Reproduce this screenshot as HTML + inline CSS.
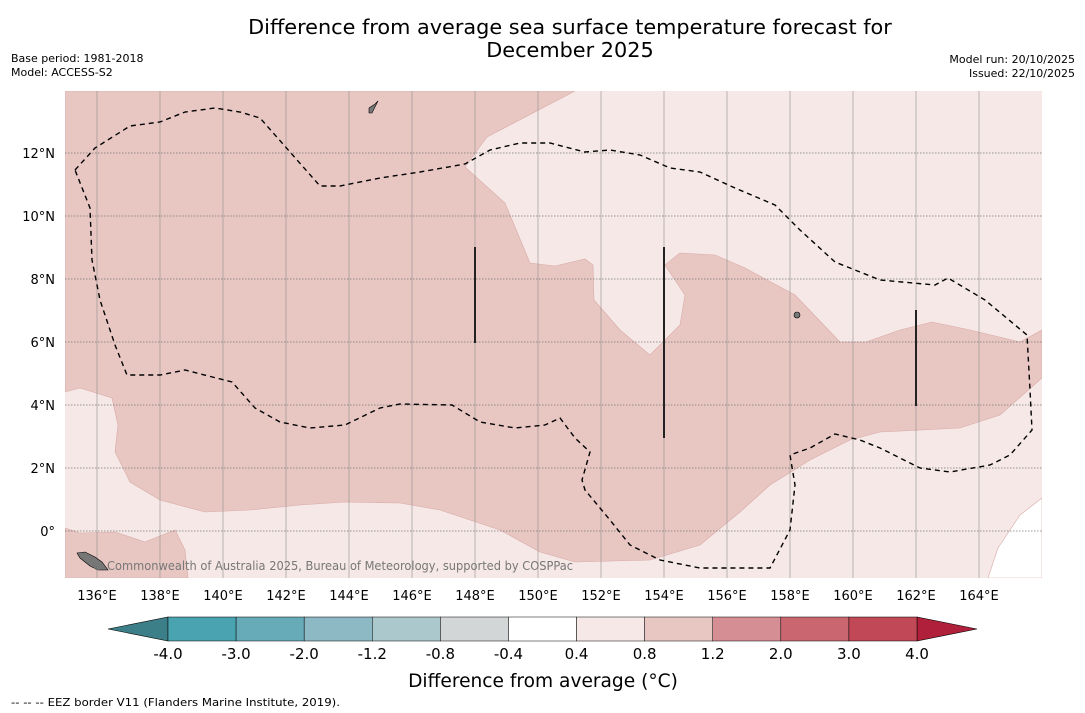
<!DOCTYPE html>
<html><head><meta charset="utf-8"><style>
body{margin:0;background:#fff;width:1085px;height:713px;overflow:hidden;font-family:"Liberation Sans","DejaVu Sans",sans-serif}
svg{display:block}
</style></head><body>
<svg id="c" width="1085" height="713" xmlns="http://www.w3.org/2000/svg" font-family="DejaVu Sans, Liberation Sans, sans-serif">
<text x="570" y="34" font-size="20.8" text-anchor="middle">Difference from average sea surface temperature forecast for</text>
<text x="570" y="57" font-size="20.8" text-anchor="middle">December 2025</text>
<text x="11" y="62" font-size="11">Base period: 1981-2018</text>
<text x="11" y="76" font-size="11">Model: ACCESS-S2</text>
<text x="1075" y="63" font-size="11" text-anchor="end">Model run: 20/10/2025</text>
<text x="1075" y="77" font-size="11" text-anchor="end">Issued: 22/10/2025</text>
<defs><clipPath id="mc"><rect x="65" y="91" width="977" height="487"/></clipPath></defs>
<g id="map" clip-path="url(#mc)">
<rect x="65" y="91" width="977" height="487" fill="#f5e8e6"/>
<polygon fill="#e8c7c3" stroke="#d8aaa6" stroke-width="0.6" points="65,91 575,91 487,137 465,167 505,203 530,263 555,266 585,259 593,265 594,300 620,330 650,355 680,325 685,295 665,265 680,253 715,255 745,268 795,295 840,342 866,342 900,330 932,322 970,330 1020,342 1042,330 1042,378 1000,415 960,428 880,432 850,440 810,460 770,485 740,512 700,545 650,560 575,562 540,552 500,530 440,510 400,503 345,502 300,505 250,510 205,512 160,500 130,482 115,452 118,425 112,398 80,388 65,392"/>
<polygon fill="#e8c7c3" stroke="#d8aaa6" stroke-width="0.6" points="65,528 80,533 115,532 145,542 175,530 185,550 188,578 65,578"/>
<polygon fill="#ffffff" stroke="#d8aaa6" stroke-width="0.6" points="1042,498 1020,515 998,548 988,578 1042,578"/>
<g id="grid"></g>
<polyline fill="none" stroke="#000" stroke-width="1.4" stroke-dasharray="5,4" points="75,170 95,148 130,126 160,122 185,112 215,108 240,112 260,118 290,152 320,186 340,186 380,178 420,172 465,164 490,150 520,143 550,143 585,152 610,150 640,155 670,168 700,172 735,188 775,205 800,230 835,262 880,280 935,285 948,278 985,300 1027,335 1030,390 1032,430 1010,455 990,465 950,472 920,468 880,448 860,440 835,434 810,448 790,455 795,485 790,530 770,568 700,568 660,560 630,545 610,520 585,490 582,480 590,452 575,438 560,418 545,425 515,428 480,422 452,405 400,404 380,408 345,425 310,428 280,422 255,408 232,382 185,370 160,375 127,375 115,345 100,300 92,260 90,208 75,170"/>
<line x1="475" y1="247" x2="475" y2="343" stroke="#222" stroke-width="2"/>
<line x1="664" y1="247" x2="664" y2="438" stroke="#222" stroke-width="2"/>
<line x1="916" y1="310" x2="916" y2="406" stroke="#222" stroke-width="2"/>
<polygon fill="#777" stroke="#000" stroke-width="0.6" points="77,553 85,552 95,557 102,562 108,570 98,570 90,566 80,558"/>
<polygon fill="#777" stroke="#000" stroke-width="0.6" points="369,108 375,104 378,101 372,113 369,113"/>
<circle cx="797" cy="315" r="3" fill="#777" stroke="#000" stroke-width="0.6"/>
<text x="92" y="570" font-size="12" fill="#777" textLength="481" lengthAdjust="spacingAndGlyphs">© Commonwealth of Australia 2025, Bureau of Meteorology, supported by COSPPac</text>
</g>
<g id="axes"></g>
<g id="cbar"></g>
<text x="543" y="687" font-size="18.6" text-anchor="middle">Difference from average (°C)</text>
<text x="11" y="706" font-size="11" textLength="329" lengthAdjust="spacingAndGlyphs">--  --  -- EEZ border V11 (Flanders Marine Institute, 2019).</text>
</svg>
<script>
const lonTicks=[136,138,140,142,144,146,148,150,152,154,156,158,160,162,164];
const latTicks=[0,2,4,6,8,10,12];
const cbBounds=["-4.0","-3.0","-2.0","-1.2","-0.8","-0.4","0.4","0.8","1.2","2.0","3.0","4.0"];
const cbColors=["#4aa3b0","#67aab8","#8cb9c4","#abc8cc","#d3d6d6","#ffffff","#f5e8e6","#e8c7c3","#d68e95","#ca6670","#c14857"];
const cbExt=["#3d7f88","#b0203a"];
const NS="http://www.w3.org/2000/svg";
const X=lon=>97+(lon-136)*31.5;
const Y=lat=>531-lat*31.5;
function mk(t,a,p){const e=document.createElementNS(NS,t);for(const k in a)e.setAttribute(k,a[k]);p.appendChild(e);return e;}
const grid=document.getElementById('grid'),axes=document.getElementById('axes'),cb=document.getElementById('cbar');
lonTicks.forEach(l=>{
 const g=mk('line',{x1:X(l),x2:X(l),y1:91,y2:578,stroke:'#888','stroke-width':0.7,'stroke-opacity':0.8},grid);
 
 
 const t=mk('text',{x:X(l),y:600,'font-size':13,'text-anchor':'middle'},axes);t.textContent=l+'°E';
 
 
});
latTicks.forEach(l=>{
 const g=mk('line',{x1:65,x2:1042,y1:Y(l),y2:Y(l),stroke:'#777','stroke-width':0.8,'stroke-dasharray':'1.5,1.5'},grid);
 
 
 const t=mk('text',{x:55,y:Y(l)+5,'font-size':13,'text-anchor':'end'},axes);t.textContent=l===0?'0°':l+'°N';
 
 
});
const cx0=168,cx1=917,cy0=617,cy1=641,n=cbColors.length,w=(cx1-cx0)/n;
const e1=mk('polygon',{points:`108,629 ${cx0},${cy0} ${cx0},${cy1}`,fill:cbExt[0],stroke:'#000','stroke-width':0.6},cb);


const e2=mk('polygon',{points:`977,629 ${cx1},${cy0} ${cx1},${cy1}`,fill:cbExt[1],stroke:'#000','stroke-width':0.6},cb);


cbColors.forEach((c,i)=>{
 const r=mk('rect',{x:cx0+i*w,y:cy0,width:w,height:cy1-cy0,fill:c,stroke:'#000','stroke-width':0.5},cb);
 
 
});
cbBounds.forEach((b,i)=>{
 const t=mk('text',{x:cx0+i*w,y:659,'font-size':15,'text-anchor':'middle'},cb);t.textContent=b;
 
 
});
</script>
</body></html>
